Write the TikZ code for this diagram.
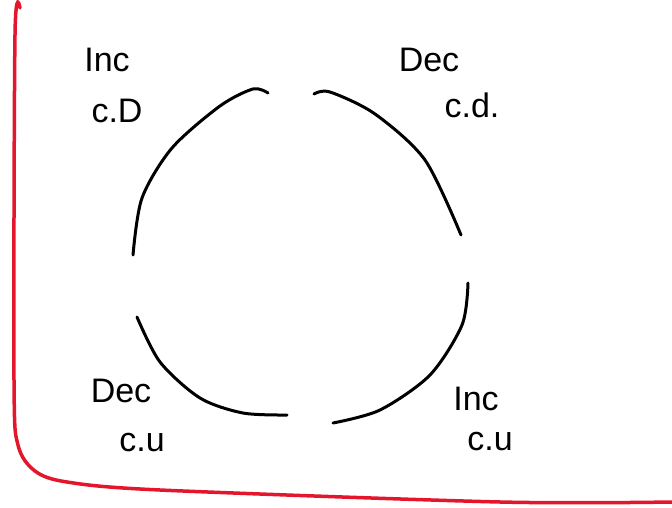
\documentclass[tikz,border=0pt]{standalone}
\usepackage{fontspec}
\setmainfont{Liberation Sans}
\definecolor{penred}{RGB}{228, 22, 44}
\definecolor{penblack}{RGB}{0, 0, 0}
\usetikzlibrary{positioning}

\begin{document}
\begin{tikzpicture}[x=1pt,y=-1pt,
    arcline/.style={line width=3pt,penblack,line cap=round},
    tag/.style={inner sep=0pt,font=\fontsize{34}{38}\selectfont}]
    \useasboundingbox (0,0) rectangle (672,508);
    % frame
    \draw[line width=3.5pt,penred,line cap=round] plot[smooth] coordinates {(20,8) (15,35) (14,380) (18,445) (35,471) (67,482) (160,490) (500,502) (672,502)};
    % four arcs
    \draw[arcline] plot[smooth] coordinates {(133,255) (142,198) (172,148) (220,106) (253,89) (268,93)};
    \draw[arcline] plot[smooth] coordinates {(314,94) (330,92) (375,114) (425,160) (461,235)};
    \draw[arcline] plot[smooth] coordinates {(468,283) (462,325) (430,375) (380,410) (333,423)};
    \draw[arcline] plot[smooth] coordinates {(137,317) (160,362) (200,398) (243,413) (287,415)};
    % labels
    \node[tag] (incA) at (107,60) {Inc};
    \node[tag] (cdA) at (117,111) {c.D};
    \node[tag] (decA) at (429,60) {Dec};
    \node[tag] (cdB) at (472,105) {c.d.};
    \node[tag] (decB) at (121,391) {Dec};
    \node[tag] (cuA) at (142,443) {c.u};
    \node[tag] (incB) at (476,399) {Inc};
    \node[tag] (cuB) at (490,442) {c.u};
\end{tikzpicture}
\end{document}
